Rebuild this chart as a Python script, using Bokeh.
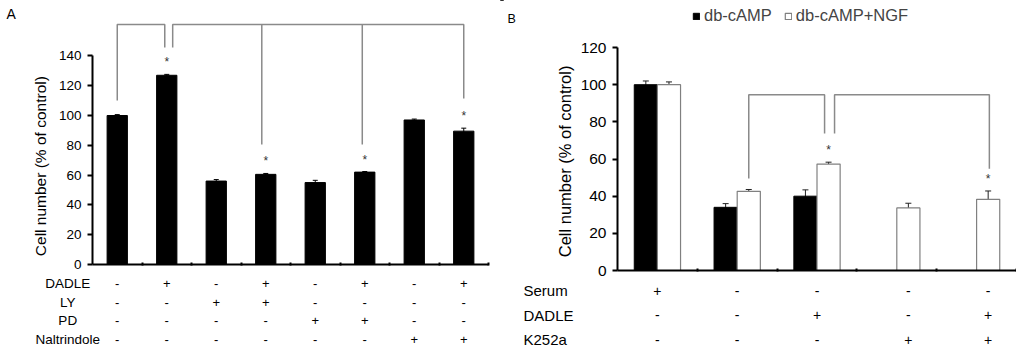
import math
from bokeh.plotting import figure
from bokeh.models import (Range1d, LinearAxis, FixedTicker, Whisker, TeeHead,
                          ColumnDataSource, Label, Legend, LegendItem)
from bokeh.layouts import row
from bokeh.core.properties import value
from bokeh.embed import file_html
from bokeh.resources import INLINE

FONT = "Liberation Sans"

# ---------------- Panel A data ----------------
a_values = [100, 127, 56, 60.5, 55, 62, 97, 89.5]
a_errors = [0.6, 0.6, 1.0, 0.6, 1.5, 0.4, 0.6, 2.0]
a_signif = [False, True, False, True, False, True, False, True]
a_rows = ["DADLE", "LY", "PD", "Naltrindole"]
a_table = [
    ["-", "+", "-", "+", "-", "+", "-", "+"],
    ["-", "-", "+", "+", "-", "-", "-", "-"],
    ["-", "-", "-", "-", "+", "+", "-", "-"],
    ["-", "-", "-", "-", "-", "-", "+", "+"],
]
a_yticks = [0, 20, 40, 60, 80, 100, 120, 140]
# brackets: bars joined, and the height where each drop ends
a_br1_bars = [1, 2]
a_br1_ends = [110, 145.6]
a_br2_bars = [2, 4, 6, 8]
a_br2_ends = [145.6, 80.5, 80.5, 111.4]
a_br_top = 161

# ---------------- Panel B data ----------------
b_labels = ["db-cAMP", "db-cAMP+NGF"]
b_camp = [100, 34, 40, None, None]
b_camp_err = [2.0, 2.0, 3.4, None, None]
b_ngf = [100, 42.6, 57.3, 33.7, 38.3]
b_ngf_err = [1.5, 1.0, 1.0, 2.5, 4.5]
b_signif = [False, False, True, False, True]
b_rows = ["Serum", "DADLE", "K252a"]
b_table = [
    ["+", "-", "-", "-", "-"],
    ["-", "-", "+", "-", "+"],
    ["-", "-", "-", "+", "+"],
]
b_yticks = [0, 20, 40, 60, 80, 100, 120]
b_br1_groups = [2, 3]
b_br1_ends = [49.5, 73.7]
b_br2_groups = [3, 5]
b_br2_ends = [73.7, 54.8]
b_br_top = 94.6

H = 347
BR_COLOR = "#8a8a8a"


def nan(v):
    return float("nan") if v is None else v


def base_fig(width, xr, yr):
    p = figure(width=width, height=H, x_range=Range1d(*xr), y_range=Range1d(*yr),
               x_axis_type=None, y_axis_type=None, toolbar_location=None,
               output_backend="svg", min_border=0, outline_line_color=None)
    p.xgrid.visible = False
    p.ygrid.visible = False
    return p


def add_axes(p, ymax, yticks, fs, ncat):
    ya = LinearAxis(fixed_location=0.5, bounds=(0, ymax),
                    ticker=FixedTicker(ticks=yticks))
    ya.axis_line_width = 2
    ya.axis_line_color = "black"
    ya.major_tick_line_width = 2
    ya.major_tick_out = 5
    ya.major_tick_in = 0
    ya.minor_tick_out = 0
    ya.minor_tick_in = 0
    ya.major_label_text_font = FONT
    ya.major_label_text_font_size = fs
    ya.major_label_text_color = "black"
    ya.major_label_standoff = 6
    p.add_layout(ya, "left")
    # category boundaries are shown as tiny minor ticks (no labels)
    xa = LinearAxis(fixed_location=0, bounds=(0.5, ncat + 0.5),
                    ticker=FixedTicker(ticks=[],
                                       minor_ticks=[i + 0.5 for i in range(1, ncat + 1)]))
    xa.axis_line_width = 2
    xa.axis_line_color = "black"
    xa.minor_tick_line_width = 2
    xa.minor_tick_line_color = "black"
    xa.minor_tick_in = 2
    xa.minor_tick_out = 1
    xa.major_tick_in = 0
    xa.major_tick_out = 0
    p.add_layout(xa, "below")


# ======================= Panel A =======================
ax_px = 49.5            # pixels per category
a_xr = (0.5 - 92 / ax_px, 0.5 - 92 / ax_px + 500 / ax_px)
ay_px = 1.49
a_yr = (-(H - 264) / ay_px, 264 / ay_px)
pa = base_fig(500, a_xr, a_yr)

a_x = list(range(1, len(a_values) + 1))
src_a = ColumnDataSource(dict(x=a_x, top=a_values,
                              upper=[v + e for v, e in zip(a_values, a_errors)],
                              lower=[v - e for v, e in zip(a_values, a_errors)]))
pa.vbar(x="x", top="top", width=0.41, source=src_a, fill_color="black", line_color="black")
pa.add_layout(Whisker(base="x", upper="upper", lower="lower", source=src_a,
                      line_color="black", line_width=1,
                      upper_head=TeeHead(size=5, line_width=1, line_color="black"),
                      lower_head=TeeHead(size=5, line_width=1, line_color="black")))
add_axes(pa, 140, a_yticks, "13.5px", len(a_values))

# significance stars
sx = [x for x, s in zip(a_x, a_signif) if s]
sy = [v + e for v, e, s in zip(a_values, a_errors, a_signif) if s]
pa.text(x=sx, y=sy, text=["*"] * len(sx), text_font=value(FONT), text_font_size="12px",
        text_align="center", text_baseline="middle", y_offset=-12, text_color="#333333")

# brackets
br1_x = [a_br1_bars[0], a_br1_bars[1] - 0.04]
pa.multi_line(xs=[[br1_x[0], br1_x[0], br1_x[1], br1_x[1]]],
              ys=[[a_br1_ends[0], a_br_top, a_br_top, a_br1_ends[1]]],
              line_color=BR_COLOR, line_width=1.5)
br2_x = [a_br2_bars[0] + 0.12, a_br2_bars[1] - 0.08, a_br2_bars[2] - 0.05, a_br2_bars[3]]
pa.multi_line(xs=[[br2_x[0], br2_x[0], br2_x[-1], br2_x[-1]],
                  [br2_x[1], br2_x[1]], [br2_x[2], br2_x[2]]],
              ys=[[a_br2_ends[0], a_br_top, a_br_top, a_br2_ends[3]],
                  [a_br_top, a_br2_ends[1]], [a_br_top, a_br2_ends[2]]],
              line_color=BR_COLOR, line_width=1.5)

# y label
pa.text(x=[-0.55], y=[66], text=["Cell number (% of control)"], angle=math.pi / 2,
        text_font=value(FONT), text_font_size="15.5px", text_align="center",
        text_baseline="middle", text_color="black")

# condition table
row_step = 18.7 / ay_px
for i, (lab, signs) in enumerate(zip(a_rows, a_table)):
    yy = -(19 / ay_px) - i * row_step
    pa.text(x=[0], y=[yy], text=[lab], text_font=value(FONT), text_font_size="13.5px",
            text_align="center", text_baseline="middle", text_color="black")
    pa.text(x=a_x, y=[yy] * len(a_x), text=signs, text_font=value(FONT),
            text_font_size="13px", text_align="center", text_baseline="middle",
            text_color="black")

pa.add_layout(Label(x=6, y=H - 5, x_units="screen", y_units="screen", text="A",
                    text_font=FONT, text_font_size="14px", text_baseline="top",
                    text_color="black"))

# ======================= Panel B =======================
bx_px = 79.8
b_xr = (0.5 - 117 / bx_px, 0.5 - 117 / bx_px + 516 / bx_px)
by_px = 1.858
b_yr = (-(H - 270) / by_px, 270 / by_px)
pb = base_fig(516, b_xr, b_yr)

b_x = list(range(1, len(b_ngf) + 1))
off = 0.145
bw = 0.29
src_c = ColumnDataSource(dict(
    x=[x - off for x in b_x], top=[nan(v) for v in b_camp],
    upper=[v + e if v is not None else float("nan") for v, e in zip(b_camp, b_camp_err)],
    lower=[v - e if v is not None else float("nan") for v, e in zip(b_camp, b_camp_err)]))
src_n = ColumnDataSource(dict(
    x=[x + off for x in b_x], top=b_ngf,
    upper=[v + e for v, e in zip(b_ngf, b_ngf_err)],
    lower=[v - e for v, e in zip(b_ngf, b_ngf_err)]))
r_c = pb.vbar(x="x", top="top", width=bw, source=src_c, fill_color="black",
              line_color="black", line_width=1)
r_n = pb.vbar(x="x", top="top", width=bw, source=src_n, fill_color="white",
              line_color="#808080", line_width=1.2)
for s in (src_c, src_n):
    pb.add_layout(Whisker(base="x", upper="upper", lower="lower", source=s,
                          line_color="#222222", line_width=1,
                          upper_head=TeeHead(size=6, line_width=1, line_color="#222222"),
                          lower_head=TeeHead(size=6, line_width=1, line_color="#222222")))
add_axes(pb, 120, b_yticks, "15.5px", len(b_ngf))

sxb = [x + off for x, s in zip(b_x, b_signif) if s]
syb = [v + e for v, e, s in zip(b_ngf, b_ngf_err, b_signif) if s]
pb.text(x=sxb, y=syb, text=["*"] * len(sxb), text_font=value(FONT), text_font_size="12px",
        text_align="center", text_baseline="middle", y_offset=-12, text_color="#333333")

# brackets
c1 = [b_br1_groups[0] + off, b_br1_groups[1] + off - 0.05]
c2 = [b_br2_groups[0] + off + 0.075, b_br2_groups[1] + off + 0.015]
pb.multi_line(xs=[[c1[0], c1[0], c1[1], c1[1]], [c2[0], c2[0], c2[1], c2[1]]],
              ys=[[b_br1_ends[0], b_br_top, b_br_top, b_br1_ends[1]],
                  [b_br2_ends[0], b_br_top, b_br_top, b_br2_ends[1]]],
              line_color=BR_COLOR, line_width=1.5)

pb.text(x=[-0.152], y=[58.7], text=["Cell number (% of control)"], angle=math.pi / 2,
        text_font=value(FONT), text_font_size="16.5px", text_align="center",
        text_baseline="middle", text_color="black")

# condition table
sign_x = [x if b_camp[i] is not None else x + off for i, x in enumerate(b_x)]
for i, (lab, signs) in enumerate(zip(b_rows, b_table)):
    yy = -(20 / by_px) - i * (24.5 / by_px)
    pb.text(x=[0.5 - 94 / bx_px], y=[yy], text=[lab], text_font=value(FONT),
            text_font_size="15px", text_align="left", text_baseline="middle",
            text_color="black")
    pb.text(x=sign_x, y=[yy] * len(sign_x), text=signs, text_font=value(FONT),
            text_font_size="14px", text_align="center", text_baseline="middle",
            text_color="black")

legend = Legend(items=[LegendItem(label=b_labels[0], renderers=[r_c]),
                       LegendItem(label=b_labels[1], renderers=[r_n])],
                location=(192, H - 25), orientation="horizontal",
                glyph_width=8, glyph_height=8, label_standoff=4, spacing=12,
                padding=0, margin=0, border_line_color=None,
                background_fill_alpha=0, label_text_font=FONT,
                label_text_font_size="16.5px", label_height=17)
pb.add_layout(legend)

pb.add_layout(Label(x=7, y=H - 11, x_units="screen", y_units="screen", text="B",
                    text_font=FONT, text_font_size="12.5px", text_baseline="top",
                    text_color="black"))

layout = row(pa, pb)
open("out.html", "w").write(file_html(layout, INLINE))
